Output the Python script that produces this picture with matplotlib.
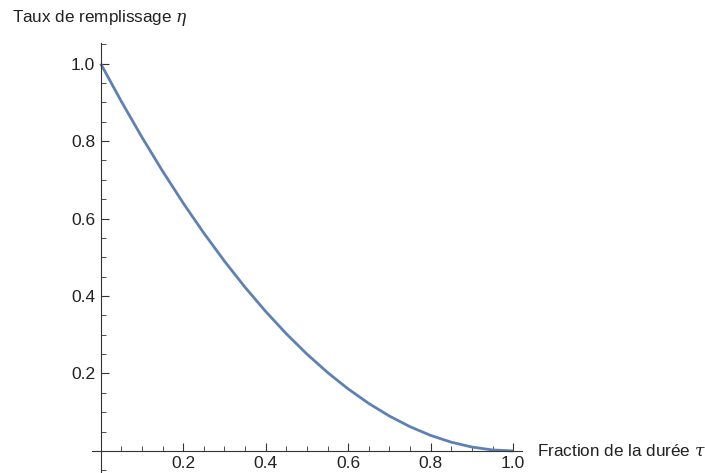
import matplotlib
matplotlib.use("Agg")
import matplotlib.pyplot as plt
import numpy as np

# values
tau = [0.0, 0.05, 0.1, 0.15, 0.2, 0.25, 0.3, 0.35, 0.4, 0.45, 0.5,
       0.55, 0.6, 0.65, 0.7, 0.75, 0.8, 0.85, 0.9, 0.95, 1.0]
eta = [1.0, 0.9025, 0.81, 0.7225, 0.64, 0.5625, 0.49, 0.4225, 0.36, 0.3025, 0.25,
       0.2025, 0.16, 0.1225, 0.09, 0.0625, 0.04, 0.0225, 0.01, 0.0025, 0.0]

x_major = [0.2, 0.4, 0.6, 0.8, 1.0]
y_major = [0.2, 0.4, 0.6, 0.8, 1.0]
x_minor = [0.05, 0.1, 0.15, 0.25, 0.3, 0.35, 0.45, 0.5, 0.55, 0.65, 0.7, 0.75, 0.85, 0.9, 0.95]
y_minor = [-0.05, 0.05, 0.1, 0.15, 0.25, 0.3, 0.35, 0.45, 0.5, 0.55, 0.65, 0.7, 0.75, 0.85, 0.9, 0.95, 1.05]

plt.rcParams['font.family'] = ['Liberation Sans', 'DejaVu Sans']
plt.rcParams['mathtext.fontset'] = 'dejavuserif'

fig = plt.figure(figsize=(7.05, 4.73), dpi=100)
ax = fig.add_axes([91.7 / 705, 0.0, 430.0 / 705, 1 - 42.7 / 473])

ax.plot(tau, eta, color='#5E81B5', lw=2.0, solid_capstyle='butt', solid_joinstyle='round')

ax.set_xlim(-0.0218, 1.0206)
ax.set_ylim(-0.057, 1.054)

# Mathematica-like axes crossing at the origin
for side in ('top', 'right'):
    ax.spines[side].set_visible(False)
ax.spines['left'].set_position(('data', 0))
ax.spines['bottom'].set_position(('data', 0))
for side in ('left', 'bottom'):
    ax.spines[side].set_color('#333333')
    ax.spines[side].set_linewidth(0.8)

ax.set_xticks(x_major)
ax.set_xticklabels(['0.2', '0.4', '0.6', '0.8', '1.0'])
ax.set_yticks(y_major)
ax.set_yticklabels(['0.2', '0.4', '0.6', '0.8', '1.0'])
ax.set_xticks(x_minor, minor=True)
ax.set_yticks(y_minor, minor=True)
ax.tick_params(which='major', direction='in', length=6, width=0.8, color='#333333',
               labelsize=12.5, labelcolor='#222222', pad=4)
ax.tick_params(which='minor', direction='in', length=3.5, width=0.6, color='#333333')

fig.text(12 / 705, 1 - 18 / 473, r'Taux de remplissage $\eta$', fontsize=12.3,
         color='#222222', ha='left', va='center')
fig.text(537 / 705, 1 - 451 / 473, r'Fraction de la durée $\tau$', fontsize=12.3,
         color='#222222', ha='left', va='center')

fig.savefig('out.png', dpi=100)
